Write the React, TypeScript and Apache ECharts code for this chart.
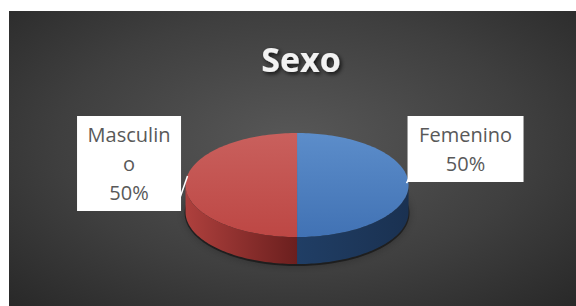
import React, { useEffect, useRef } from 'react';
import * as echarts from 'echarts';

const chartTitle = 'Sexo';
const categories = ['Femenino', 'Masculino'];
const values = [50, 50];

const topGradients = [
  ['#5c8dca', '#4172b4'],
  ['#c9605d', '#bd4744'],
];
const sideGradients = [
  ['#203e65', '#1a3151'],
  ['#ae403d', '#6b1f1e'],
];

export default function App() {
  const ref = useRef<HTMLDivElement>(null);
  useEffect(() => {
    if (!ref.current) return;
    const chart = echarts.init(ref.current, undefined, { renderer: 'svg' });
    const total = values.reduce((a, b) => a + b, 0);
    const lin = (c: string[], horizontal: boolean) => ({
      type: 'linear', x: 0, y: 0, x2: horizontal ? 1 : 0, y2: horizontal ? 0 : 1, global: false,
      colorStops: [{ offset: 0, color: c[0] }, { offset: 1, color: c[1] }],
    });
    chart.setOption({
      animation: false,
      backgroundColor: 'transparent',
      title: {
        text: chartTitle,
        left: 287,
        textAlign: 'center',
        top: 26,
        textStyle: {
          fontFamily: '"Open Sans", sans-serif', fontWeight: 'bold', fontSize: 34, color: '#f2f2f2',
          textShadowColor: 'rgba(0,0,0,0.75)', textShadowBlur: 4, textShadowOffsetX: 2, textShadowOffsetY: 2,
        },
      },
      series: [{
        type: 'custom',
        coordinateSystem: 'none',
        data: values.map((v, i) => ({ name: categories[i], value: v })),
        renderItem: (params: any, api: any) => {
          const i = params.dataIndex;
          const W = api.getWidth();
          const H = api.getHeight();
          const cx = W * 0.508, cy = H * 0.59, rx = 111.5, ry = 52, depth = 27;
          let acc = 0;
          for (let k = 0; k < i; k++) acc += values[k];
          const a0 = (acc / total) * 2 * Math.PI;
          const a1 = ((acc + values[i]) / total) * 2 * Math.PI;
          const P = (t: number, dy = 0) => [cx + rx * Math.sin(t), cy - ry * Math.cos(t) + dy];
          const arc = (s: number, e: number, dy: number) => {
            const n = Math.max(2, Math.ceil((e - s) / (Math.PI / 120)));
            const pts: number[][] = [];
            for (let j = 0; j <= n; j++) pts.push(P(s + ((e - s) * j) / n, dy));
            return pts;
          };
          const children: any[] = [];
          if (i === 0) {
            children.push({
              type: 'ellipse',
              shape: { cx, cy: cy + depth + 1, rx: rx + 1, ry: ry + 1 },
              style: { fill: 'rgba(0,0,0,0.45)', shadowBlur: 8, shadowColor: 'rgba(0,0,0,0.6)' },
            });
          }
          const fs = Math.max(a0, Math.PI / 2);
          const fe = Math.min(a1, (3 * Math.PI) / 2);
          if (fe > fs) {
            const pts = arc(fs, fe, 0).concat(arc(fs, fe, depth).reverse());
            children.push({ type: 'polygon', shape: { points: pts }, style: { fill: lin(sideGradients[i], true) } });
          }
          children.push({
            type: 'polygon',
            shape: { points: [[cx, cy], ...arc(a0, a1, 0)] },
            style: { fill: lin(topGradients[i], false) },
          });
          // label
          const m = (a0 + a1) / 2;
          const right = Math.sin(m) > 0;
          const pct = Math.round((values[i] / total) * 100) + '%';
          const boxTop = cy - 69;
          const edge = P(m);
          const bx = right ? edge[0] - 1 + 58 : edge[0] - 4 - 52.5;
          children.push({
            type: 'line',
            shape: right
              ? { x1: edge[0] - 2, y1: edge[1] - 2, x2: edge[0] + 1, y2: edge[1] - 8 }
              : { x1: edge[0] + 2, y1: edge[1] - 9, x2: edge[0] - 6, y2: edge[1] + 14 },
            style: { stroke: '#ffffff', lineWidth: 1.5 },
          });
          children.push({
            type: 'text',
            x: bx,
            y: boxTop,
            style: {
              text: categories[i] + '\n' + pct,
              align: 'center',
              verticalAlign: 'top',
              width: right ? 96 : 88,
              overflow: 'breakAll',
              lineHeight: 29,
              font: '20px "Open Sans", sans-serif',
              fill: '#595959',
              backgroundColor: '#ffffff',
              padding: right ? [4, 10] : [4, 8],
            },
          });
          return { type: 'group', children };
        },
      }],
    });
    return () => chart.dispose();
  }, []);
  return (
    <div style={{ position: 'fixed', left: 0, top: 0, width: 576, height: 306, background: '#ffffff' }}>
      <div
        ref={ref}
        style={{
          position: 'absolute', left: 9, top: 11, width: 567, height: 295,
          background: 'radial-gradient(ellipse 75% 80% at 50% 45%, #585858 0%, #3f3f3f 55%, #262626 100%)',
        }}
      />
    </div>
  );
}
